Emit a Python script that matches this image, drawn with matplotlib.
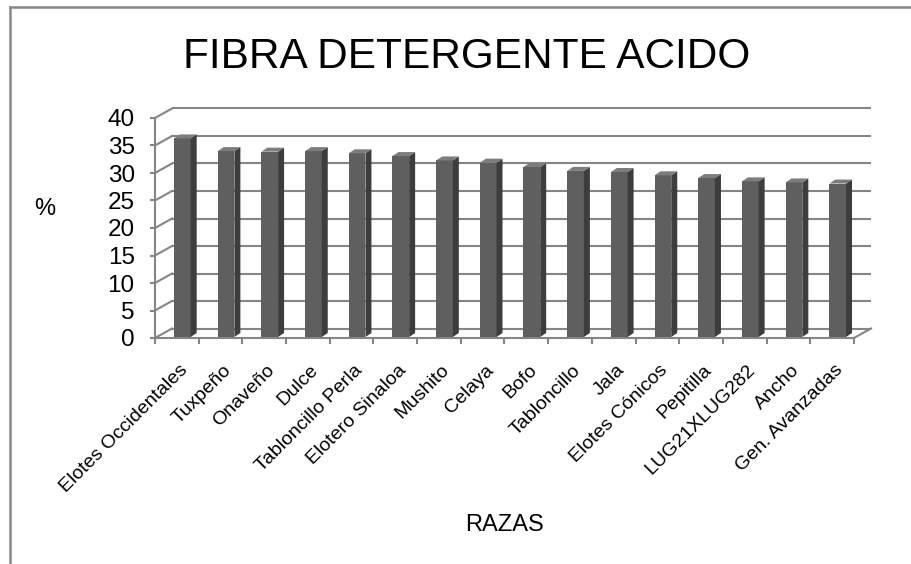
import matplotlib
matplotlib.use("Agg")
import matplotlib.pyplot as plt
from matplotlib.patches import Polygon
from matplotlib.lines import Line2D

plt.rcParams['font.family'] = ['Liberation Sans', 'DejaVu Sans']

# ---- data ----
categories = ["Elotes Occidentales", "Tuxpeño", "Onaveño", "Dulce", "Tabloncillo Perla",
              "Elotero Sinaloa", "Mushito", "Celaya", "Bofo", "Tabloncillo", "Jala",
              "Elotes Cónicos", "Pepitilla", "LUG21XLUG282", "Ancho", "Gen. Avanzadas"]
values = [36.1, 33.8, 33.7, 33.8, 33.4, 32.9, 32.1, 31.7, 30.9, 30.2, 30.0,
          29.4, 28.9, 28.3, 28.1, 27.9]
yticks = [0, 5, 10, 15, 20, 25, 30, 35, 40]
title = "FIBRA DETERGENTE ACIDO"
ylabel = "%"
xlabel = "RAZAS"

# ---- layout ----
W, H = 912, 564
fig = plt.figure(figsize=(W / 100, H / 100), dpi=100)
fig.patch.set_facecolor("white")
ax = fig.add_axes([155 / W, 1 - 338 / H, (854 - 155) / W, (338 - 118) / H])
n = len(categories)
ax.set_xlim(0, n)
ax.set_ylim(0, 40)

px_per_cat = (854 - 155) / n
px_per_val = (338 - 118) / 40.0
DX = 17 / px_per_cat       # depth offset of back wall (x, category units)
DY = 9.5 / px_per_val      # depth offset of back wall (y, value units)

grid_c = "#858585"
lw = 1.5

# back wall gridlines + left side wall diagonals
for v in yticks:
    ax.plot([DX, n + DX], [v + DY, v + DY], color=grid_c, lw=lw, clip_on=False, zorder=1,
            solid_capstyle="butt")
    ax.plot([0, DX], [v, v + DY], color=grid_c, lw=lw, clip_on=False, zorder=1)
# floor right edge
ax.plot([n, n + DX], [0, DY], color=grid_c, lw=lw, clip_on=False, zorder=1)

# bars (front face via ax.bar, side and top computed from values)
bw = 16.7 / px_per_cat
x_off = 19 / px_per_cat
base = 1 / px_per_val
sx = 6 / px_per_cat
sy = 4 / px_per_val
xs = [i + x_off for i in range(n)]
ax.bar(xs, values, width=bw, bottom=base, align="edge", color="#5f5f5f",
       edgecolor="none", zorder=3, clip_on=False)
for x0, v in zip(xs, values):
    top = base + v
    side = Polygon([(x0 + bw, base), (x0 + bw + sx, base + sy), (x0 + bw + sx, top + sy),
                    (x0 + bw, top)], closed=True, facecolor="#3d3d3d", edgecolor="none",
                   zorder=3, clip_on=False)
    topf = Polygon([(x0, top), (x0 + bw, top), (x0 + bw + sx, top + sy), (x0 + sx, top + sy)],
                   closed=True, facecolor="#7d7d7d", edgecolor="none", zorder=3, clip_on=False)
    ax.add_patch(side)
    ax.add_patch(topf)

# spines
for s in ["top", "right"]:
    ax.spines[s].set_visible(False)
for s in ["left", "bottom"]:
    ax.spines[s].set_color(grid_c)
    ax.spines[s].set_linewidth(lw)
ax.set_facecolor("none")

# y ticks
ax.set_yticks(yticks)
ax.set_yticklabels([str(v) for v in yticks], fontsize=17.5)
ax.tick_params(axis="y", direction="out", length=3.6, width=lw, color=grid_c, pad=11)

# x ticks: marks at boundaries, labels at centers
ax.set_xticks(range(n + 1))
ax.set_xticklabels([])
ax.tick_params(axis="x", which="major", direction="out", length=4.5, width=lw, color=grid_c)
ax.set_xticks([i + 0.5 + 2 / px_per_cat for i in range(n)], minor=True)
ax.set_xticklabels(categories, minor=True, rotation=45, ha="right", va="top",
                   rotation_mode="anchor", fontsize=14)
ax.tick_params(axis="x", which="minor", length=0, pad=17)

# texts
fig.text(467 / W, 1 - 68 / H, title, ha="center", va="baseline", fontsize=30.5)
fig.text(45 / W, 1 - 209 / H, ylabel, ha="center", va="center", fontsize=17)
fig.text(505 / W, 1 - 531 / H, xlabel, ha="center", va="baseline", fontsize=17)

# chart frame (partially visible)
fig.add_artist(Line2D([10 / W, 10 / W], [0, 1 - 7 / H], color="#888888", lw=1.8,
                      transform=fig.transFigure))
fig.add_artist(Line2D([10 / W, 1], [1 - 7 / H, 1 - 7 / H], color="#888888", lw=1.8,
                      transform=fig.transFigure))

fig.savefig("out.png", dpi=100)
